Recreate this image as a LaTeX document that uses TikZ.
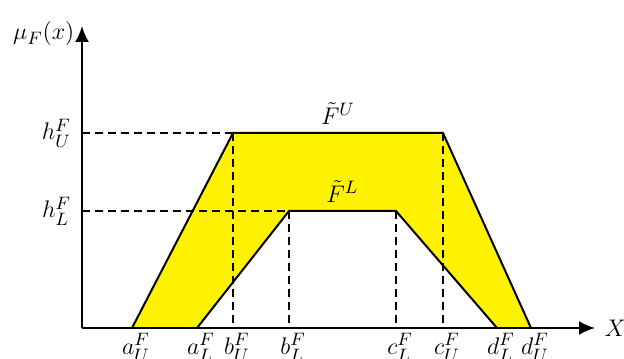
\documentclass[tikz,border=0pt]{standalone}
\usepackage{amsmath}
\usetikzlibrary{arrows.meta, calc}
\begin{document}
\begin{tikzpicture}[x=0.5pt, y=0.5pt,
		>={Latex[length=8pt,width=7pt]},   % big filled arrow tips
		font=\fontsize{13}{15}\selectfont,
		band/.style={fill=yellow, even odd rule},
		edge/.style={line width=1pt, line join=miter},
		guide/.style={line width=1pt, dash pattern=on 4pt off 2.5pt},
		tick/.style={inner sep=1pt, below=1.5pt}]
		\useasboundingbox (-82,-30) rectangle (542,328);
		% Eckpunkte
		\coordinate (O) at (0,0);
		\coordinate (aU) at (50,0);   \coordinate (bU) at (151,195);
		\coordinate (cU) at (361,195); \coordinate (dU) at (449,0);
		\coordinate (aL) at (115,0);  \coordinate (bL) at (207,117);
		\coordinate (cL) at (314,117); \coordinate (dL) at (415,0);
		\coordinate (hU) at (0,195);  \coordinate (hL) at (0,117);
		\coordinate (ytop) at (0,302); \coordinate (xend) at (513,0);
		% Band zwischen den Trapezen
		\fill[band] (aU) -- (bU) -- (cU) -- (dU) -- cycle
			(aL) -- (bL) -- (cL) -- (dL) -- cycle;
		% Hilfslinien
		\draw[guide] (hU) -- (bU) (bU) -- (bU |- O) (cU) -- (cU |- O);
		\draw[guide] (hL) -- (bL) (bL) -- (bL |- O) (cL) -- (cL |- O);
		% Trapeze
		\draw[edge] (aU) -- (bU) -- (cU) -- (dU);
		\draw[edge] (aL) -- (bL) -- (cL) -- (dL);
		% Achsen
		\draw[->, line width=1pt] (O) -- (xend) node[right=1pt] (xlab) {$X$};
		\draw[->, line width=1pt] (O) -- (ytop) node[anchor=east, xshift=0pt, yshift=-4pt] (ylab) {$\mu_F(x)$};
		% Achsen beschriften
		\node[left=2pt] (hUlab) at (hU) {$h_U^F$};
		\node[left=2pt] (hLlab) at (hL) {$h_L^F$};
		\foreach \p/\t in {aU/a_U^F, aL/a_L^F, bU/b_U^F, bL/b_L^F, cL/c_L^F, cU/c_U^F, dL/d_L^F, dU/d_U^F}
			\node[tick] (\p lab) at ($(\p |- O)+(4,0)$) {$\t$};
		\node[above=3pt, inner sep=1pt] (FU) at ($(bU)!0.5!(cU)$) {$\tilde{F}^U$};
		\node[above=3pt, inner sep=1pt] (FL) at ($(bL)!0.5!(cL)$) {$\tilde{F}^L$};
	\end{tikzpicture}
\end{document}
